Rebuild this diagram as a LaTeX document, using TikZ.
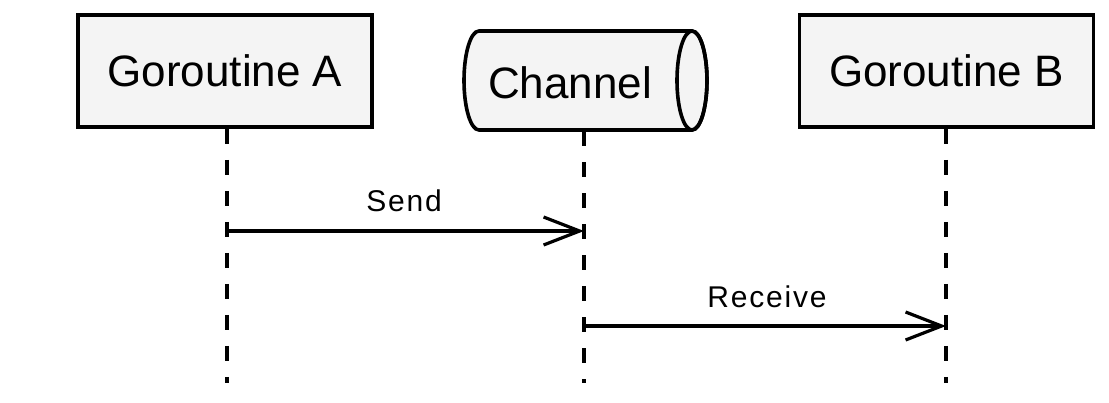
\documentclass[tikz,border=0pt]{standalone}
\usepackage{fontspec}
\setmainfont{Liberation Sans}
\usetikzlibrary{arrows.meta}
\definecolor{boxfill}{HTML}{F4F4F4}
\begin{document}
\begin{tikzpicture}[x=1pt,y=-1pt,
  actor/.style={draw=black,line width=3.6pt,fill=boxfill,minimum width=294pt,minimum height=112pt,inner sep=0pt,
    font=\fontsize{44}{50}\selectfont},
  lifeline/.style={line width=3.2pt,dash pattern=on 15pt off 16pt},
  msg/.style={line width=3.2pt,-{Straight Barb[length=36pt,width=28pt,line width=3.2pt]}},
  msglabel/.style={font=\fontsize{30}{34}\selectfont\addfontfeature{LetterSpace=6},inner sep=0pt}]
  \useasboundingbox (0,0) rectangle (1109,402);

  % participants
  \node[actor] (ga) at (225,71) {Goroutine A};
  \node[actor] (gb) at (946.5,71) {Goroutine B};

  % channel drawn as a horizontal cylinder
  \filldraw[line width=3.6pt,fill=boxfill]
    (692,31) -- (479,31) arc[start angle=270,end angle=90,x radius=15,y radius=49.5]
    -- (692,130) arc[start angle=90,end angle=-90,x radius=15,y radius=49.5] -- cycle;
  \draw[line width=3.6pt] (692,80.5) ellipse[x radius=15,y radius=49.5];
  \node[font=\fontsize{44}{50}\selectfont,inner sep=0pt] (ch) at (570,83) {Channel};
  \coordinate (chb) at (584,131);

  % lifelines
  \coordinate (ea) at (227,383);
  \coordinate (ec) at (584,383);
  \coordinate (eb) at (946,383);
  \draw[lifeline] (ga.south -| ea) -- (ea);
  \draw[lifeline] (chb) -- (ec);
  \draw[lifeline] (gb.south -| eb) -- (eb);

  % messages
  \coordinate (sa) at (227,231);
  \coordinate (sc) at (584,231);
  \coordinate (rc) at (584,326);
  \coordinate (rb) at (946,326);
  \draw[msg] (sa) -- (sc);
  \draw[msg] (rc) -- (rb);
  \node[msglabel] (ls) at (404,201) {Send};
  \node[msglabel] (lr) at (767,297) {Receive};
\end{tikzpicture}
\end{document}
